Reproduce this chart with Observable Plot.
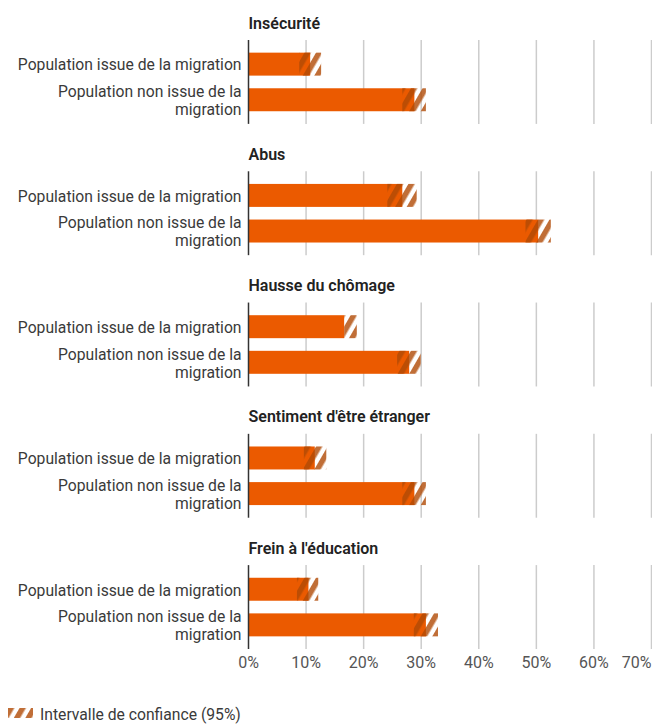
<!DOCTYPE html>
<html><head><meta charset="utf-8">
<script src="https://cdn.jsdelivr.net/npm/d3@7"></script>
<script src="https://cdn.jsdelivr.net/npm/@observablehq/plot@0.6"></script>
<style>
html,body{margin:0;padding:0;background:#fff;font-family:Roboto,sans-serif;}
#wrap{position:relative;width:652px;height:724px;overflow:hidden;}
#legend-icon{position:absolute;left:8px;top:708px;}
#legend-text{position:absolute;left:40px;top:706px;font-size:15.7px;line-height:18px;color:#3a3a3a;white-space:nowrap;}
</style></head><body>
<svg width="0" height="0" style="position:absolute">
  <defs>
    <pattern id="hatch" patternUnits="userSpaceOnUse" width="10" height="10" patternTransform="rotate(30)">
      <rect x="0" y="0" width="5.5" height="10" fill="#b04a05" fill-opacity="0.8"></rect>
    </pattern>
  </defs>
</svg>
<div id="wrap">
  <div id="chart"></div>
  <svg id="legend-icon" width="25" height="10"><rect x="0" y="0" width="25" height="10" fill="url(#hatch)"></rect></svg>
  <div id="legend-text">Intervalle de confiance (95%)</div>
</div>
<script>
const themes = ["Insécurité", "Abus", "Hausse du chômage", "Sentiment d'être étranger", "Frein à l'éducation"];
const groups = ["Population issue de la migration", "Population non issue de la migration"];
const groupLabels = ["Population issue de la migration", "Population non issue de la\nmigration"];
const valuesMigr = [10.8, 26.8, 16.7, 11.6, 10.5];
const lowMigr    = [8.9, 24.2, 16.7, 9.7, 8.5];
const highMigr   = [12.7, 29.3, 18.9, 13.6, 12.2];
const valuesNon  = [28.9, 50.4, 28.0, 28.9, 30.9];
const lowNon     = [26.8, 48.2, 25.9, 26.8, 28.8];
const highNon    = [30.9, 52.6, 30.0, 30.9, 33.0];
const xTicks = [0, 10, 20, 30, 40, 50, 60];
const xLastTick = [70];
const gridTicks = [10, 20, 30, 40, 50, 60, 70];

const data = [];
themes.forEach((t, i) => {
  data.push({theme: t, group: groups[0], label: groupLabels[0], value: valuesMigr[i], low: lowMigr[i], high: highMigr[i]});
  data.push({theme: t, group: groups[1], label: groupLabels[1], value: valuesNon[i], low: lowNon[i], high: highNon[i]});
});

const chart = Plot.plot({
  width: 652,
  height: 680,
  marginTop: 40,
  marginBottom: 31,
  marginLeft: 248,
  marginRight: 1,
  style: {fontFamily: "Roboto, sans-serif", fontSize: "15.7px", color: "#333", background: "#fff"},
  x: {domain: [0, 70], axis: null},
  y: {domain: groups, padding: 0.355, axis: null, round: false},
  fy: {domain: themes, paddingInner: 0.361, paddingOuter: 0, axis: null, round: false},
  marks: [
    Plot.gridX(gridTicks, {stroke: "#ccc", strokeOpacity: 1, strokeWidth: 1.5}),
    Plot.barX(data, {fy: "theme", y: "group", x: "value", fill: "#eb5a00"}),
    Plot.barX(data, {fy: "theme", y: "group", x1: "low", x2: "high", fill: "url(#hatch)"}),
    Plot.ruleX([0], {stroke: "#333", strokeWidth: 1.5}),
    Plot.text(data, {fy: "theme", y: "group", text: "label", frameAnchor: "left", dx: -7, textAnchor: "end", lineHeight: 1.15, fill: "#3a3a3a", fontSize: 15.7}),
    Plot.text(themes, {fy: d => d, text: d => d, frameAnchor: "top-left", dy: -17, lineAnchor: "middle", textAnchor: "start", fontWeight: 600, fill: "#222", fontSize: 16}),
    Plot.axisX(xTicks, {tickSize: 0, tickPadding: 7, tickFormat: d => d + "%", fill: "#555", fontSize: 16}),
    Plot.axisX(xLastTick, {tickSize: 0, tickPadding: 7, tickFormat: d => d + "%", fill: "#555", fontSize: 16, textAnchor: "end"})
  ]
});
document.getElementById("chart").appendChild(chart);
</script>
</body></html>
